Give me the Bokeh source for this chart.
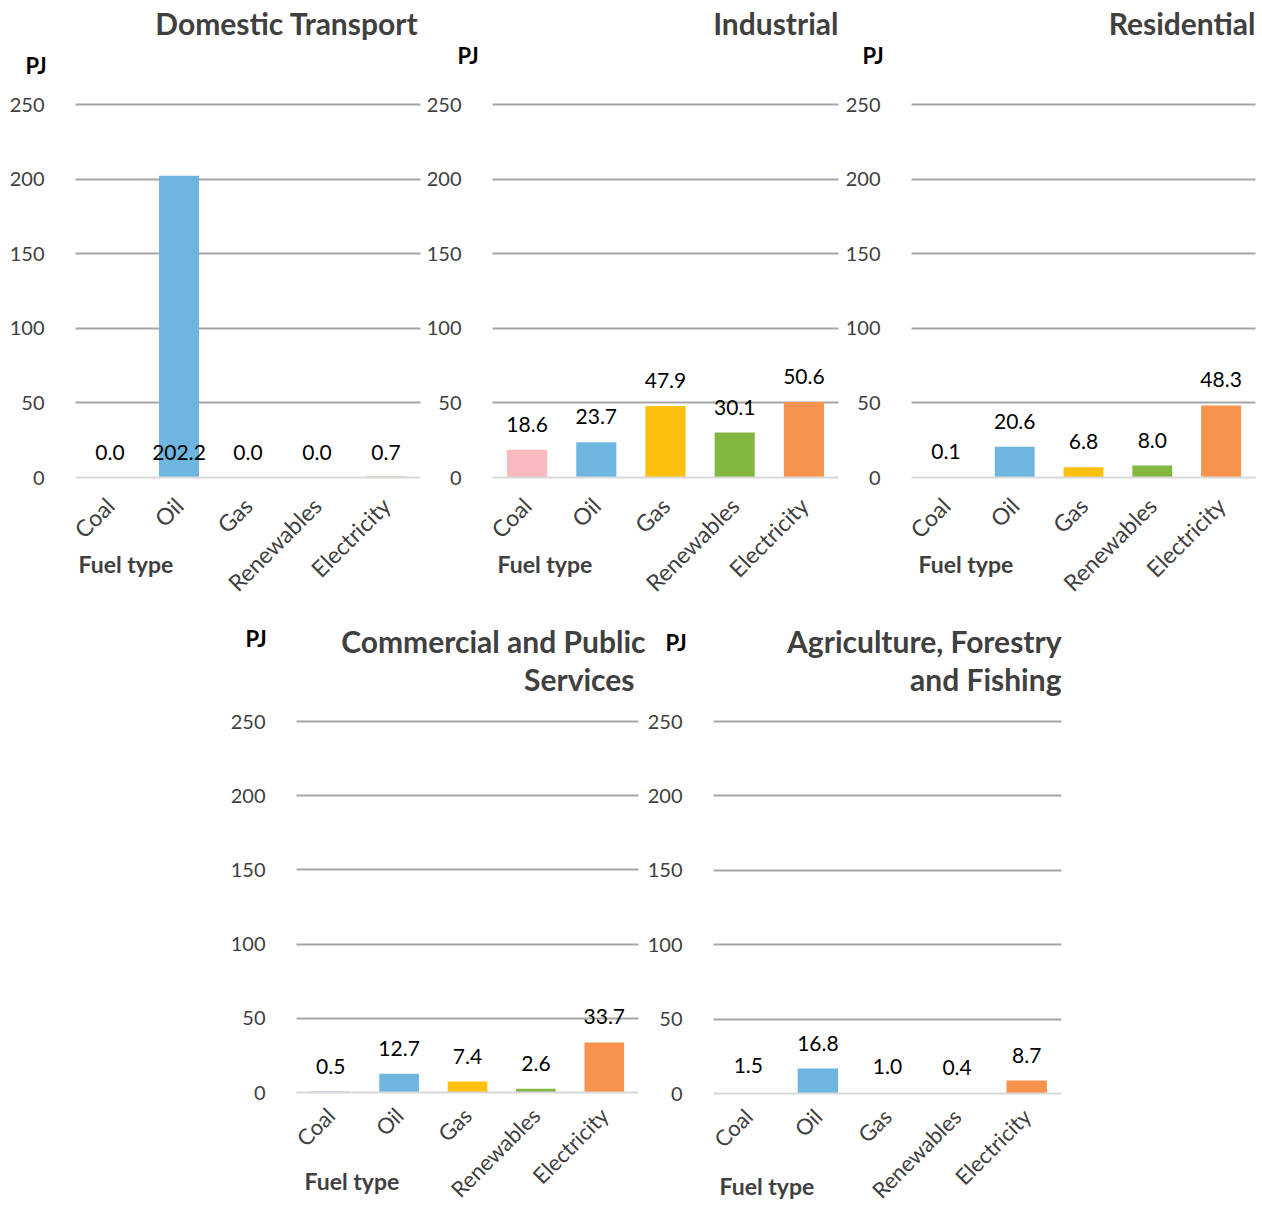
from bokeh.plotting import figure
from bokeh.models import Range1d, FixedTicker, Label, ColumnDataSource, Spacer, CustomJSTickFormatter
from bokeh.layouts import column, row
from bokeh.embed import file_html
from bokeh.resources import INLINE
from bokeh.core.properties import value

fuels = ["Coal", "Oil", "Gas", "Renewables", "Electricity"]
y_ticks = [0, 50, 100, 150, 200, 250]
y_max = 250

transport = [0.0, 202.2, 0.0, 0.0, 0.7]
industrial = [18.6, 23.7, 47.9, 30.1, 50.6]
residential = [0.1, 20.6, 6.8, 8.0, 48.3]
commercial = [0.5, 12.7, 7.4, 2.6, 33.7]
agriculture = [1.5, 16.8, 1.0, 0.4, 8.7]

BLUE = "#4472C4"; PINK = "#F8B9BF"; OIL = "#6EB6E0"; GAS = "#FDC00F"; REN = "#84B73F"; ELEC = "#F7934C"
NONE = "rgba(0,0,0,0)"

FONT = "Lato"
TICK_COLOR = "#404040"

# layout geometry (canvas pixels): plot area L,R,T,B ; label anchors (x from left, y from bottom)
panels = [
    dict(title=["Domestic Transport"], vals=transport, colors=[BLUE, OIL, GAS, REN, ELEC], base_labels=True,
         W=425, H=600, L=75, R=420, T=104, B=477, pj=(25, 535), tl=[(418, 578)], ft=(78, 37), xstand=18, xfs="23px"),
    dict(title=["Industrial"], vals=industrial, colors=[PINK, OIL, GAS, REN, ELEC], base_labels=False,
         W=418, H=600, L=67, R=413, T=104, B=477, pj=(32, 545), tl=[(413, 578)], ft=(72, 37), xstand=18, xfs="23px"),
    dict(title=["Residential"], vals=residential, colors=[BLUE, OIL, GAS, REN, ELEC], base_labels=False,
         W=418, H=600, L=68, R=412, T=104, B=477, pj=(19, 545), tl=[(412, 578)], ft=(75, 37), xstand=18, xfs="23px"),
    dict(title=["Commercial and Public", "Services"], vals=commercial, colors=[BLUE, OIL, GAS, REN, ELEC], base_labels=False,
         W=417, H=609, L=67, R=409, T=121, B=492, pj=(16, 571), tl=[(416, 569), (405, 531)], ft=(75, 29), xstand=13, xfs="22px"),
    dict(title=["Agriculture, Forestry", "and Fishing"], vals=agriculture, colors=[NONE, OIL, NONE, NONE, ELEC], base_labels=False,
         W=420, H=609, L=67, R=415, T=121, B=493, pj=(19, 567), tl=[(415, 569), (415, 531)], ft=(73, 24), xstand=13, xfs="22px"),
]


def make(cfg):
    n = len(fuels)
    W, H, L, R, T, B = cfg["W"], cfg["H"], cfg["L"], cfg["R"], cfg["T"], cfg["B"]
    cw = (R - L) / n            # px per category
    sy = (B - T) / y_max        # px per PJ
    p = figure(width=W, height=H,
               x_range=Range1d(-L / cw, (W - L) / cw),
               y_range=Range1d(-(H - B) / sy, B / sy),
               output_backend="svg", toolbar_location=None,
               min_border=0, min_border_left=0, min_border_right=0,
               min_border_top=0, min_border_bottom=0)
    p.title.visible = False
    p.outline_line_color = None
    p.background_fill_color = "white"
    p.border_fill_color = "white"

    xs = [i + 0.5 for i in range(n)]
    vals = cfg["vals"]
    label_y = [0.0 if cfg["base_labels"] else v for v in vals]
    src = ColumnDataSource(dict(x=xs, top=vals, color=cfg["colors"],
                                ly=label_y, txt=["%.1f" % v for v in vals]))
    p.vbar(x="x", top="top", width=0.58, fill_color="color", line_color=None, source=src)
    p.text(x="x", y="ly", text="txt", source=src, text_align="center", text_baseline="bottom",
           y_offset=-18, text_font=value(FONT), text_font_size="21px", text_color="#000000")

    p.xgrid.visible = False
    p.ygrid.ticker = FixedTicker(ticks=y_ticks[1:])
    p.ygrid.grid_line_color = "#A6A6A6"
    p.ygrid.grid_line_width = 2
    try:
        p.ygrid.cross_bounds = (0, n)
    except Exception:
        pass

    p.yaxis.fixed_location = 0
    p.yaxis.ticker = FixedTicker(ticks=y_ticks)
    p.yaxis.axis_line_color = None
    p.yaxis.major_tick_line_color = None
    p.yaxis.minor_tick_line_color = None
    p.yaxis.major_label_standoff = 25
    p.yaxis.major_label_text_font = FONT
    p.yaxis.major_label_text_font_size = "20px"
    p.yaxis.major_label_text_color = TICK_COLOR

    p.xaxis.fixed_location = 0
    p.xaxis.bounds = (0, n)
    p.xaxis.ticker = FixedTicker(ticks=xs)
    p.xaxis.formatter = CustomJSTickFormatter(args=dict(names=fuels),
                                              code="const i = Math.round(tick - 0.5); return names[i] || '';")
    p.xaxis.axis_line_color = "#D9D9D9"
    p.xaxis.axis_line_width = 2
    p.xaxis.major_tick_line_color = None
    p.xaxis.minor_tick_line_color = None
    p.xaxis.major_label_orientation = 0.785398
    p.xaxis.major_label_standoff = cfg["xstand"]
    p.xaxis.major_label_text_font = FONT
    p.xaxis.major_label_text_font_size = cfg["xfs"]
    p.xaxis.major_label_text_color = TICK_COLOR

    p.add_layout(Label(x=cfg["pj"][0], y=cfg["pj"][1], x_units="screen", y_units="screen",
                       text="PJ", text_font=FONT, text_font_size="22px", text_font_style="bold",
                       text_color="#000000", text_baseline="middle", text_align="left"))
    for line, (tx, ty) in zip(cfg["title"], cfg["tl"]):
        p.add_layout(Label(x=tx, y=ty, x_units="screen", y_units="screen",
                           text=line, text_font=FONT, text_font_size="30px", text_font_style="bold",
                           text_color="#404040", text_baseline="middle", text_align="right"))
    p.add_layout(Label(x=cfg["ft"][0], y=cfg["ft"][1], x_units="screen", y_units="screen",
                       text="Fuel type", text_font=FONT, text_font_size="23px", text_font_style="bold",
                       text_color="#404040", text_baseline="middle", text_align="left"))
    return p


figs = [make(c) for c in panels]
layout = column(row(figs[0], figs[1], figs[2]),
                row(Spacer(width=229, height=609), figs[3], figs[4]))

open("out.html", "w").write(file_html(layout, INLINE))
